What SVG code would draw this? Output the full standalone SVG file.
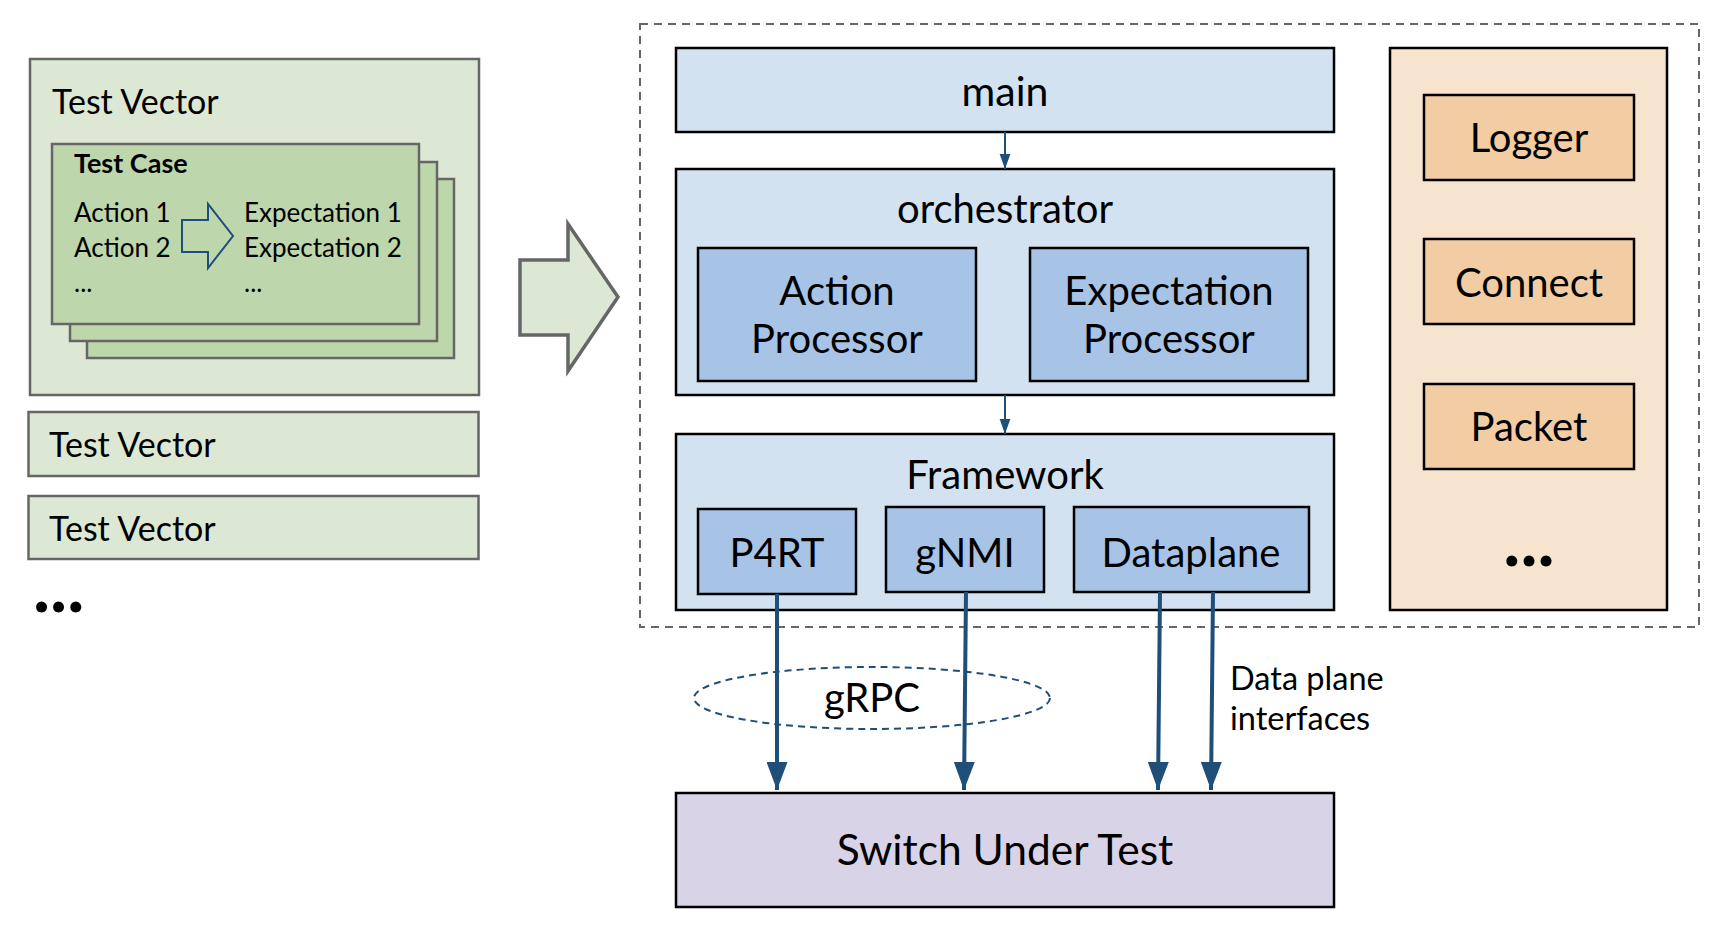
<svg xmlns="http://www.w3.org/2000/svg" width="1720" height="928" viewBox="0 0 1720 928">
<defs>
<style>
text{font-family:Lato,"Liberation Sans",sans-serif;fill:#000}
.tv{fill:#dde8d4;stroke:#666;stroke-width:2.5}
.tc{fill:#bdd6ab;stroke:#666;stroke-width:2.5}
.lb{fill:#d3e2f1;stroke:#000;stroke-width:2.5}
.mb{fill:#a7c4e6;stroke:#000;stroke-width:2.5}
.pl{fill:#f6e4cf;stroke:#000;stroke-width:2.5}
.or{fill:#f2cda3;stroke:#000;stroke-width:2.5}
.sw{fill:#d9d3e7;stroke:#000;stroke-width:2.5}
.big{font-size:40px;text-anchor:middle}
.tvt{font-size:34px}
.sm{font-size:26px}
.dots{font-size:72px;font-weight:bold}
.con{stroke:#1f4e79;fill:none}
</style>
<marker id="ahS" markerUnits="userSpaceOnUse" markerWidth="15" markerHeight="21" refX="21" refY="7.5" orient="auto" viewBox="0 0 21 15">
<path d="M0,0 L21,7.5 L0,15 Z" fill="#1f4e79"/>
</marker>
<marker id="ahL" markerUnits="userSpaceOnUse" markerWidth="28" markerHeight="21" refX="28" refY="10.5" orient="auto" viewBox="0 0 28 21">
<path d="M0,0 L28,10.5 L0,21 Z" fill="#1f4e79"/>
</marker>
</defs>
<rect width="1720" height="928" fill="#fff"/>

<g id="test-vector-1">
<rect class="tv" x="30" y="59" width="449" height="336"/>
<text class="tvt" x="52" y="114">Test Vector</text>
<rect class="tc" x="87" y="179" width="367" height="179"/>
<rect class="tc" x="70" y="162" width="367" height="179"/>
<rect class="tc" x="52" y="144" width="367" height="180"/>
<text x="74" y="173" font-size="27" font-weight="bold">Test Case</text>
<text class="sm" x="74" y="222">Action 1</text>
<text class="sm" x="74" y="257">Action 2</text>
<text class="sm" x="74" y="292">...</text>
<text class="sm" x="244" y="222">Expectation 1</text>
<text class="sm" x="244" y="257">Expectation 2</text>
<text class="sm" x="244" y="292">...</text>
<path d="M182,220 L208,220 L208,204 L233,236 L208,268 L208,252 L182,252 Z" fill="none" stroke="#1f4e79" stroke-width="2"/>
</g>

<g id="test-vector-2">
<rect class="tv" x="28.5" y="412" width="450" height="64"/>
<text class="tvt" x="49" y="457">Test Vector</text>
</g>
<g id="test-vector-3">
<rect class="tv" x="28.5" y="496" width="450" height="63"/>
<text class="tvt" x="49" y="541">Test Vector</text>
</g>
<text class="dots" x="33" y="612">...</text>

<g id="big-arrow">
<path d="M520,260 L568,260 L568,224 L618,297 L568,371 L568,335 L520,335 Z" fill="#dde8d4" stroke="#666" stroke-width="3.5"/>
</g>

<g id="container">
<rect x="640" y="24" width="1059" height="603" fill="none" stroke="#666" stroke-width="2" stroke-dasharray="8,6"/>
</g>

<g id="main">
<rect class="lb" x="676" y="48" width="658" height="84"/>
<text class="big" x="1005" y="106" style="font-size:41px">main</text>
</g>

<g id="orchestrator">
<rect class="lb" x="676" y="169" width="658" height="226"/>
<text class="big" x="1005" y="223">orchestrator</text>
</g>
<g id="action-processor">
<rect class="mb" x="698" y="248" width="278" height="133"/>
<text class="big" x="837" y="305">Action</text>
<text class="big" x="837" y="353">Processor</text>
</g>
<g id="expectation-processor">
<rect class="mb" x="1030" y="248" width="278" height="133"/>
<text class="big" x="1169" y="305">Expectation</text>
<text class="big" x="1169" y="353">Processor</text>
</g>

<g id="framework">
<rect class="lb" x="676" y="434" width="658" height="176"/>
<text class="big" x="1005" y="489">Framework</text>
</g>
<g id="p4rt">
<rect class="mb" x="698" y="509" width="158" height="85"/>
<text class="big" x="777" y="567">P4RT</text>
</g>
<g id="gnmi">
<rect class="mb" x="886" y="507" width="158" height="85"/>
<text class="big" x="965" y="567">gNMI</text>
</g>
<g id="dataplane">
<rect class="mb" x="1074" y="507" width="235" height="85"/>
<text class="big" x="1191" y="567">Dataplane</text>
</g>

<g id="plugins">
<rect class="pl" x="1390" y="48" width="277" height="562"/>
</g>
<g id="logger">
<rect class="or" x="1424" y="95" width="210" height="85"/>
<text class="big" x="1529" y="152">Logger</text>
</g>
<g id="connect">
<rect class="or" x="1424" y="239" width="210" height="85"/>
<text class="big" x="1529" y="297">Connect</text>
</g>
<g id="packet">
<rect class="or" x="1424" y="384" width="210" height="85"/>
<text class="big" x="1529" y="441">Packet</text>
</g>
<text class="dots" x="1529" y="566" text-anchor="middle">...</text>

<g id="switch">
<rect class="sw" x="676" y="793" width="658" height="114"/>
<text class="big" x="1005" y="865" style="font-size:42.5px">Switch Under Test</text>
</g>

<g id="grpc">
<ellipse cx="872" cy="698" rx="178" ry="31" fill="none" stroke="#1f4e79" stroke-width="2" stroke-dasharray="7,5"/>
<text class="big" x="872" y="712">gRPC</text>
</g>

<text x="1230" y="690" font-size="32.5">Data plane</text>
<text x="1230" y="730" font-size="32.5">interfaces</text>

<g id="connectors">
<line class="con" x1="1005" y1="132" x2="1005" y2="169" stroke-width="2" marker-end="url(#ahS)"/>
<line class="con" x1="1005" y1="395" x2="1005" y2="434" stroke-width="2" marker-end="url(#ahS)"/>
<line class="con" x1="777" y1="594" x2="777" y2="790" stroke-width="4" marker-end="url(#ahL)"/>
<line class="con" x1="966" y1="592" x2="964" y2="790" stroke-width="4" marker-end="url(#ahL)"/>
<line class="con" x1="1160" y1="592" x2="1158" y2="790" stroke-width="4" marker-end="url(#ahL)"/>
<line class="con" x1="1213" y1="592" x2="1211" y2="790" stroke-width="4" marker-end="url(#ahL)"/>
</g>
</svg>
